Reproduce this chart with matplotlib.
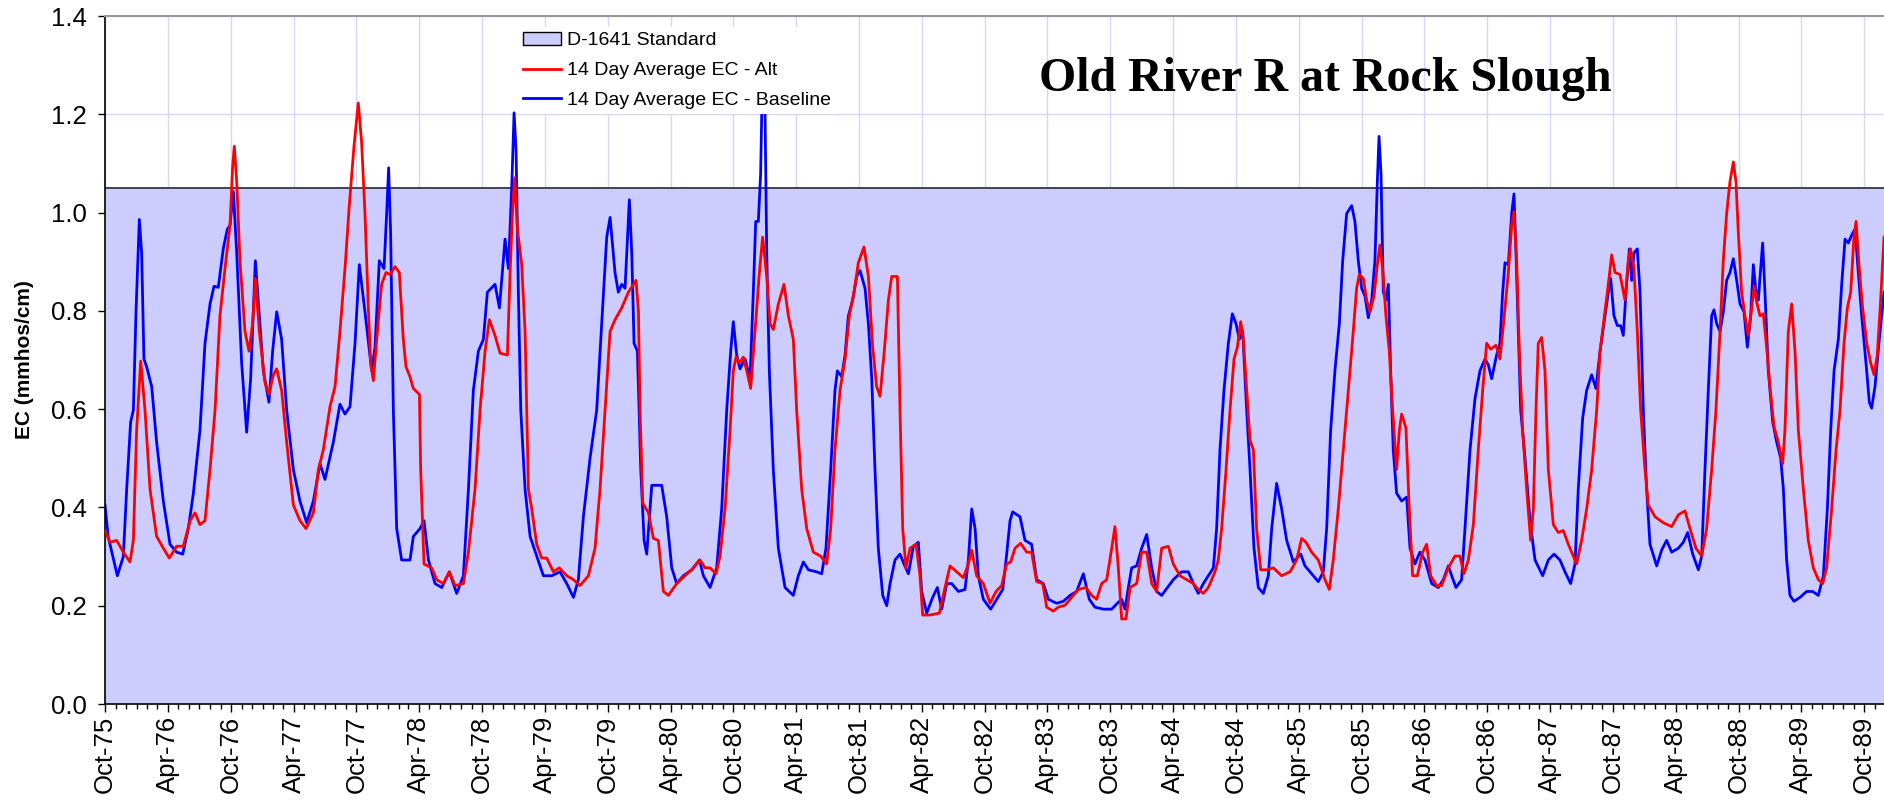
import numpy as np
import pandas as pd
import matplotlib
matplotlib.use('Agg')
import matplotlib.pyplot as plt
import matplotlib.dates as mdates
from matplotlib.patches import Patch
from matplotlib.lines import Line2D

# (months since 1 Oct 1975, EC in mmhos/cm)
baseline_pts = [
    (0.0, 0.405), (0.3, 0.341), (1.18, 0.261), (1.75, 0.30), (2.07, 0.437), (2.45, 0.574), (2.71, 0.598),
    (2.96, 0.797), (3.28, 0.986), (3.5, 0.918), (3.72, 0.702), (3.98, 0.686), (4.46, 0.646), (4.93, 0.533),
    (5.57, 0.413), (6.21, 0.325), (6.84, 0.309), (7.42, 0.305), (7.96, 0.357), (8.44, 0.429), (9.07, 0.557),
    (9.55, 0.734), (10.03, 0.814), (10.41, 0.85), (10.82, 0.848), (11.3, 0.927), (11.68, 0.966), (11.94, 0.974),
    (12.26, 1.043), (12.58, 0.918), (13.05, 0.694), (13.53, 0.553), (13.91, 0.662), (14.36, 0.902), (14.74, 0.79),
    (15.12, 0.678), (15.66, 0.614), (16.01, 0.718), (16.4, 0.798), (16.87, 0.742), (17.35, 0.598), (17.99, 0.477),
    (18.62, 0.413), (19.26, 0.369), (19.9, 0.413), (20.53, 0.489), (21.01, 0.457), (21.81, 0.533), (22.44, 0.61),
    (22.92, 0.59), (23.4, 0.605), (23.88, 0.734), (24.29, 0.894), (24.83, 0.798), (25.47, 0.678), (25.79, 0.726),
    (26.2, 0.902), (26.65, 0.886), (26.9, 0.998), (27.09, 1.091), (27.28, 0.958), (27.54, 0.598), (27.86, 0.357),
    (28.33, 0.293), (29.13, 0.293), (29.45, 0.341), (30.09, 0.357), (30.47, 0.373), (30.89, 0.293), (31.52, 0.245),
    (32.16, 0.237), (32.89, 0.269), (33.59, 0.225), (34.23, 0.261), (34.71, 0.437), (35.18, 0.638), (35.66, 0.718),
    (36.14, 0.742), (36.52, 0.838), (37.25, 0.854), (37.67, 0.806), (38.21, 0.946), (38.53, 0.886), (38.85, 1.054),
    (39.07, 1.203), (39.26, 1.127), (39.48, 0.838), (39.71, 0.598), (40.12, 0.437), (40.6, 0.341), (41.23, 0.301),
    (41.87, 0.261), (42.67, 0.261), (43.46, 0.269), (44.1, 0.245), (44.74, 0.217), (45.21, 0.253), (45.69, 0.381),
    (46.33, 0.501), (46.96, 0.598), (47.44, 0.774), (47.92, 0.95), (48.24, 0.99), (48.71, 0.878), (49.03, 0.838),
    (49.35, 0.854), (49.67, 0.846), (50.08, 1.026), (50.31, 0.918), (50.53, 0.734), (50.85, 0.718), (51.17, 0.477),
    (51.49, 0.333), (51.74, 0.305), (52.22, 0.445), (52.7, 0.445), (53.17, 0.445), (53.65, 0.381), (54.13, 0.277),
    (54.6, 0.245), (55.24, 0.261), (56.04, 0.273), (56.77, 0.293), (57.15, 0.261), (57.79, 0.237), (58.42, 0.277),
    (58.9, 0.397), (59.38, 0.598), (59.76, 0.718), (60.01, 0.778), (60.33, 0.71), (60.65, 0.682), (61.13, 0.702),
    (61.61, 0.662), (61.92, 0.838), (62.15, 0.982), (62.4, 0.982), (62.62, 1.079), (62.81, 1.3), (63.04, 1.2),
    (63.2, 0.918), (63.45, 0.678), (63.83, 0.477), (64.31, 0.317), (64.95, 0.237), (65.74, 0.221), (66.22, 0.261),
    (66.7, 0.289), (67.18, 0.273), (67.97, 0.269), (68.45, 0.265), (68.86, 0.317), (69.31, 0.477), (69.72, 0.638),
    (69.95, 0.678), (70.36, 0.666), (70.68, 0.71), (71.0, 0.79), (71.41, 0.822), (71.79, 0.87), (72.11, 0.882),
    (72.59, 0.846), (72.91, 0.774), (73.23, 0.662), (73.54, 0.477), (73.86, 0.317), (74.28, 0.221), (74.66, 0.2),
    (74.98, 0.245), (75.45, 0.293), (75.93, 0.305), (76.31, 0.285), (76.73, 0.265), (77.21, 0.321), (77.68, 0.329),
    (78.0, 0.229), (78.48, 0.185), (79.05, 0.217), (79.5, 0.237), (79.91, 0.193), (80.39, 0.245), (80.87, 0.245),
    (81.5, 0.229), (82.14, 0.233), (82.46, 0.293), (82.78, 0.397), (83.1, 0.357), (83.41, 0.261), (83.89, 0.213),
    (84.59, 0.193), (85.16, 0.213), (85.74, 0.233), (86.06, 0.293), (86.44, 0.373), (86.69, 0.391), (87.39, 0.381),
    (87.87, 0.333), (88.5, 0.325), (88.98, 0.253), (89.62, 0.245), (90.1, 0.213), (90.89, 0.205), (91.53, 0.209),
    (92.17, 0.221), (92.8, 0.229), (93.44, 0.265), (94.01, 0.213), (94.55, 0.197), (95.35, 0.193), (96.15, 0.193),
    (96.69, 0.205), (97.1, 0.213), (97.42, 0.193), (97.74, 0.237), (98.06, 0.277), (98.53, 0.281), (99.01, 0.317),
    (99.49, 0.345), (99.97, 0.277), (100.44, 0.229), (100.92, 0.221), (102.03, 0.253), (102.83, 0.269),
    (103.47, 0.269), (103.95, 0.245), (104.42, 0.225), (104.9, 0.245), (105.38, 0.261), (105.86, 0.277),
    (106.17, 0.357), (106.49, 0.517), (106.87, 0.638), (107.29, 0.734), (107.67, 0.794), (108.02, 0.774),
    (108.34, 0.742), (108.66, 0.758), (109.04, 0.598), (109.36, 0.477), (109.74, 0.317), (110.15, 0.237),
    (110.63, 0.225), (111.11, 0.261), (111.43, 0.357), (111.9, 0.449), (112.38, 0.397), (112.86, 0.333),
    (113.5, 0.289), (114.2, 0.305), (114.61, 0.281), (115.09, 0.269), (115.88, 0.249), (116.36, 0.269),
    (116.68, 0.357), (117.06, 0.557), (117.47, 0.678), (117.89, 0.774), (118.21, 0.902), (118.59, 0.998),
    (119.07, 1.014), (119.38, 0.982), (119.7, 0.902), (120.02, 0.846), (120.34, 0.83), (120.66, 0.786),
    (120.98, 0.822), (121.29, 0.902), (121.52, 1.063), (121.68, 1.155), (121.87, 1.079), (122.09, 0.838),
    (122.34, 0.822), (122.57, 0.854), (122.79, 0.678), (123.04, 0.517), (123.36, 0.429), (123.84, 0.413),
    (124.32, 0.421), (124.64, 0.317), (125.11, 0.285), (125.59, 0.309), (126.07, 0.293), (126.71, 0.245),
    (127.34, 0.237), (127.82, 0.253), (128.3, 0.281), (128.62, 0.261), (129.03, 0.237), (129.57, 0.253),
    (129.89, 0.357), (130.37, 0.517), (130.85, 0.622), (131.32, 0.678), (131.8, 0.702), (132.12, 0.69),
    (132.44, 0.662), (132.91, 0.71), (133.23, 0.734), (133.49, 0.838), (133.71, 0.898), (134.03, 0.894),
    (134.35, 0.998), (134.57, 1.038), (134.76, 0.918), (134.98, 0.758), (135.21, 0.598), (135.62, 0.501),
    (136.1, 0.373), (136.58, 0.293), (137.31, 0.261), (137.85, 0.293), (138.39, 0.305), (138.96, 0.293),
    (139.44, 0.269), (139.98, 0.245), (140.4, 0.285), (140.71, 0.437), (141.13, 0.582), (141.51, 0.638),
    (141.99, 0.67), (142.4, 0.642), (142.79, 0.718), (143.26, 0.79), (143.58, 0.838), (143.8, 0.866),
    (144.12, 0.79), (144.44, 0.77), (144.76, 0.77), (145.01, 0.75), (145.27, 0.838), (145.59, 0.926),
    (145.81, 0.862), (146.03, 0.918), (146.35, 0.926), (146.61, 0.838), (146.92, 0.598), (147.24, 0.437),
    (147.56, 0.325), (148.2, 0.281), (148.67, 0.313), (149.15, 0.333), (149.63, 0.309), (150.27, 0.317),
    (150.74, 0.329), (151.16, 0.349), (151.64, 0.305), (152.18, 0.273), (152.5, 0.301), (152.81, 0.477),
    (153.13, 0.638), (153.45, 0.79), (153.67, 0.802), (153.93, 0.774), (154.25, 0.758), (154.56, 0.798),
    (154.88, 0.862), (155.2, 0.878), (155.52, 0.906), (155.84, 0.862), (156.16, 0.814), (156.54, 0.798),
    (156.86, 0.726), (157.18, 0.79), (157.43, 0.894), (157.65, 0.846), (157.91, 0.822), (158.13, 0.886),
    (158.32, 0.938), (158.54, 0.838), (158.86, 0.678), (159.28, 0.574), (159.66, 0.533), (160.04, 0.501),
    (160.3, 0.437), (160.61, 0.293), (160.93, 0.221), (161.31, 0.209), (161.89, 0.217), (162.52, 0.229),
    (163.1, 0.229), (163.64, 0.221), (164.12, 0.261), (164.5, 0.397), (164.82, 0.557), (165.14, 0.678),
    (165.55, 0.742), (165.87, 0.854), (166.19, 0.946), (166.5, 0.938), (166.82, 0.954), (167.14, 0.966),
    (167.46, 0.878), (167.78, 0.79), (168.19, 0.694), (168.51, 0.614), (168.73, 0.602), (169.05, 0.646),
    (169.46, 0.742), (169.91, 0.838),
]

alt_pts = [
    (0.0, 0.353), (0.48, 0.329), (1.11, 0.333), (1.75, 0.309), (2.39, 0.289), (2.71, 0.333), (3.02, 0.557),
    (3.41, 0.698), (3.82, 0.598), (4.3, 0.437), (4.93, 0.341), (5.57, 0.317), (6.14, 0.297), (6.84, 0.321),
    (7.48, 0.321), (8.12, 0.373), (8.6, 0.389), (9.07, 0.365), (9.55, 0.373), (10.03, 0.477), (10.51, 0.598),
    (10.98, 0.79), (11.46, 0.886), (11.94, 0.974), (12.19, 1.094), (12.35, 1.135), (12.58, 1.063), (12.89, 0.902),
    (13.37, 0.758), (13.75, 0.718), (14.1, 0.774), (14.36, 0.866), (14.74, 0.758), (15.28, 0.654), (15.66, 0.63),
    (16.08, 0.67), (16.4, 0.682), (16.87, 0.638), (17.35, 0.533), (17.99, 0.405), (18.62, 0.373), (19.2, 0.357),
    (19.9, 0.389), (20.38, 0.477), (20.85, 0.517), (21.49, 0.605), (21.97, 0.646), (22.44, 0.758), (22.92, 0.886),
    (23.33, 1.014), (23.78, 1.135), (24.19, 1.223), (24.51, 1.143), (24.83, 0.998), (25.15, 0.806), (25.37, 0.694),
    (25.63, 0.658), (25.95, 0.742), (26.42, 0.854), (26.84, 0.878), (27.22, 0.874), (27.7, 0.89), (28.11, 0.878),
    (28.49, 0.742), (28.75, 0.686), (29.13, 0.666), (29.45, 0.642), (30.03, 0.63), (30.15, 0.477), (30.47, 0.285),
    (31.2, 0.277), (31.68, 0.253), (32.32, 0.245), (32.89, 0.269), (33.43, 0.241), (34.23, 0.245), (34.71, 0.309),
    (35.34, 0.437), (35.82, 0.598), (36.3, 0.718), (36.71, 0.782), (37.25, 0.75), (37.73, 0.714), (38.43, 0.71),
    (38.69, 0.878), (38.91, 0.998), (39.13, 1.071), (39.39, 0.966), (39.8, 0.894), (40.12, 0.758), (40.44, 0.437),
    (40.76, 0.397), (41.23, 0.325), (41.71, 0.297), (42.19, 0.297), (42.82, 0.269), (43.4, 0.277), (44.1, 0.261),
    (44.74, 0.253), (45.37, 0.241), (46.17, 0.261), (46.8, 0.317), (47.28, 0.437), (47.76, 0.598), (48.24, 0.758),
    (48.71, 0.782), (49.35, 0.806), (49.99, 0.838), (50.72, 0.862), (50.95, 0.798), (51.1, 0.598), (51.36, 0.409),
    (51.9, 0.389), (52.38, 0.337), (52.85, 0.333), (53.33, 0.229), (53.81, 0.221), (54.6, 0.245), (55.4, 0.261),
    (56.2, 0.277), (56.83, 0.293), (57.31, 0.277), (57.79, 0.277), (58.36, 0.265), (58.74, 0.301), (59.22, 0.397),
    (59.7, 0.557), (60.01, 0.678), (60.27, 0.706), (60.59, 0.694), (60.97, 0.706), (61.29, 0.678), (61.67, 0.642),
    (62.08, 0.758), (62.5, 0.878), (62.81, 0.95), (63.2, 0.87), (63.52, 0.774), (63.83, 0.762), (64.31, 0.814),
    (64.85, 0.854), (65.27, 0.79), (65.74, 0.742), (66.06, 0.598), (66.54, 0.437), (67.02, 0.357), (67.65, 0.309),
    (68.35, 0.301), (68.93, 0.285), (69.31, 0.357), (69.72, 0.517), (70.2, 0.638), (70.68, 0.702), (71.09, 0.79),
    (71.54, 0.838), (71.95, 0.898), (72.49, 0.93), (72.91, 0.87), (73.32, 0.726), (73.7, 0.646), (74.02, 0.626),
    (74.43, 0.718), (74.82, 0.822), (75.14, 0.87), (75.68, 0.87), (75.93, 0.598), (76.19, 0.357), (76.5, 0.277),
    (76.89, 0.317), (77.46, 0.325), (77.84, 0.261), (78.1, 0.181), (78.8, 0.181), (79.69, 0.185), (80.23, 0.237),
    (80.71, 0.281), (81.34, 0.269), (81.98, 0.257), (82.46, 0.285), (82.78, 0.313), (83.25, 0.261), (83.89, 0.245),
    (84.53, 0.205), (85.1, 0.229), (85.64, 0.241), (86.12, 0.285), (86.5, 0.289), (86.91, 0.317), (87.45, 0.327),
    (88.03, 0.309), (88.5, 0.309), (88.98, 0.249), (89.56, 0.245), (89.94, 0.197), (90.57, 0.189), (91.05, 0.197),
    (91.69, 0.201), (92.17, 0.213), (92.96, 0.233), (93.69, 0.237), (94.24, 0.221), (94.71, 0.213), (95.19, 0.245),
    (95.67, 0.253), (96.15, 0.317), (96.46, 0.361), (96.78, 0.277), (97.1, 0.173), (97.51, 0.173), (97.9, 0.237),
    (98.53, 0.245), (99.01, 0.309), (99.49, 0.309), (99.97, 0.245), (100.44, 0.229), (100.92, 0.317),
    (101.56, 0.321), (102.03, 0.285), (102.67, 0.261), (103.31, 0.253), (103.95, 0.245), (104.42, 0.233),
    (104.9, 0.225), (105.38, 0.237), (106.01, 0.269), (106.33, 0.293), (106.65, 0.357), (107.07, 0.477),
    (107.45, 0.598), (107.83, 0.702), (108.15, 0.726), (108.47, 0.778), (108.72, 0.742), (109.04, 0.638),
    (109.36, 0.537), (109.68, 0.517), (109.99, 0.357), (110.38, 0.273), (110.95, 0.273), (111.59, 0.277),
    (112.38, 0.261), (113.18, 0.269), (113.81, 0.293), (114.29, 0.337), (114.71, 0.329), (115.24, 0.309),
    (115.88, 0.293), (116.52, 0.253), (116.93, 0.233), (117.31, 0.293), (117.79, 0.397), (118.27, 0.517),
    (118.75, 0.638), (119.22, 0.758), (119.54, 0.846), (119.8, 0.874), (120.18, 0.866), (120.5, 0.822),
    (120.82, 0.798), (121.2, 0.83), (121.52, 0.894), (121.77, 0.934), (122.03, 0.886), (122.34, 0.79),
    (122.66, 0.718), (122.98, 0.598), (123.36, 0.477), (123.62, 0.557), (123.84, 0.59), (124.25, 0.562),
    (124.57, 0.397), (124.89, 0.261), (125.34, 0.261), (125.85, 0.309), (126.23, 0.325), (126.61, 0.261),
    (127.18, 0.241), (127.66, 0.241), (128.3, 0.277), (128.93, 0.301), (129.41, 0.301), (129.79, 0.265),
    (130.21, 0.293), (130.69, 0.365), (131.16, 0.517), (131.58, 0.638), (131.96, 0.734), (132.34, 0.722),
    (132.85, 0.73), (133.23, 0.702), (133.61, 0.782), (134.03, 0.878), (134.35, 0.974), (134.57, 1.002),
    (134.83, 0.902), (135.08, 0.718), (135.4, 0.557), (135.78, 0.437), (136.16, 0.333), (136.42, 0.397),
    (136.67, 0.598), (136.89, 0.734), (137.21, 0.746), (137.53, 0.678), (137.85, 0.477), (138.33, 0.365),
    (138.8, 0.349), (139.28, 0.353), (139.76, 0.325), (140.24, 0.301), (140.55, 0.285), (141.03, 0.333),
    (141.51, 0.397), (141.99, 0.477), (142.47, 0.598), (142.79, 0.718), (143.26, 0.798), (143.58, 0.854),
    (143.9, 0.914), (144.22, 0.878), (144.7, 0.874), (145.17, 0.822), (145.49, 0.902), (145.71, 0.926),
    (146.03, 0.886), (146.35, 0.758), (146.67, 0.598), (147.08, 0.477), (147.4, 0.405), (148.04, 0.381),
    (148.83, 0.369), (149.63, 0.361), (150.27, 0.385), (150.9, 0.393), (151.38, 0.357), (151.95, 0.317),
    (152.5, 0.301), (152.97, 0.357), (153.45, 0.477), (153.86, 0.598), (154.25, 0.758), (154.56, 0.902),
    (154.88, 0.998), (155.2, 1.063), (155.52, 1.103), (155.77, 1.063), (156.0, 0.958), (156.31, 0.838),
    (156.63, 0.79), (156.95, 0.75), (157.27, 0.806), (157.52, 0.85), (157.75, 0.818), (158.07, 0.79),
    (158.38, 0.794), (158.7, 0.726), (159.02, 0.646), (159.4, 0.565), (159.82, 0.533), (160.23, 0.489),
    (160.45, 0.557), (160.77, 0.758), (161.09, 0.814), (161.41, 0.718), (161.73, 0.557), (162.21, 0.437),
    (162.68, 0.333), (163.16, 0.277), (163.64, 0.253), (164.05, 0.245), (164.43, 0.277), (164.91, 0.397),
    (165.33, 0.517), (165.71, 0.598), (166.09, 0.734), (166.41, 0.806), (166.73, 0.838), (167.04, 0.95),
    (167.24, 0.982), (167.55, 0.886), (167.87, 0.806), (168.26, 0.734), (168.64, 0.694), (168.96, 0.67),
    (169.27, 0.71), (169.59, 0.822), (169.91, 0.95),
]

std_months = [0.0, 169.91]
std_ec = [1.05, 1.05]

start = pd.Timestamp('1975-10-01')


def to_dates(months):
    return start + pd.to_timedelta(np.asarray(months) * 30.4375, unit='D')


base_months, base_ec = np.array(baseline_pts).T
alt_months, alt_ec = np.array(alt_pts).T

plt.rcParams['font.family'] = ['Liberation Sans', 'DejaVu Sans']

fig = plt.figure(figsize=(18.84, 8.08), dpi=100)
ax = fig.add_axes([105 / 1884, 104 / 808, 1779 / 1884, 688 / 808])

std_x = to_dates(std_months)
ax.fill_between(std_x, 0, std_ec, facecolor='#ccccff', edgecolor='none', zorder=1)
ax.plot(std_x, std_ec, color='#444444', lw=1.4, zorder=1.5)
ax.plot(to_dates(base_months), base_ec, color='#0000ff', lw=2.0, zorder=2)
ax.plot(to_dates(alt_months), alt_ec, color='#ff0000', lw=2.0, zorder=3)

ax.set_xlim(std_x[0], std_x[-1])
ax.set_ylim(0, 1.4)
ax.set_yticks(np.arange(0, 1.41, 0.2))
ax.yaxis.set_major_formatter(plt.FormatStrFormatter('%.1f'))

ax.xaxis.set_major_locator(mdates.MonthLocator(bymonth=[4, 10]))
ax.xaxis.set_minor_locator(mdates.MonthLocator())
ax.xaxis.set_major_formatter(mdates.DateFormatter('%b-%y'))
plt.setp(ax.get_xticklabels(), rotation=90, ha='center')

ax.set_axisbelow(True)
ax.grid(True, which='major', color='#d6d6fc', lw=1.0)

ax.tick_params(axis='y', labelsize=18.5, length=5, width=1, pad=8)
ax.tick_params(axis='x', which='major', labelsize=18.5, length=5.5, width=1, pad=3)
ax.tick_params(axis='x', which='minor', length=3.5, width=1)

ax.spines['right'].set_visible(False)
ax.spines['top'].set_color('#999999')
ax.spines['top'].set_linewidth(1.5)
for s in ['left', 'bottom']:
    ax.spines[s].set_color('black')
    ax.spines[s].set_linewidth(1.2)

ax.set_ylabel('EC (mmhos/cm)', fontsize=15, fontweight='bold')
ax.yaxis.set_label_coords(-0.040, 0.5)

handles = [
    Patch(facecolor='#ccccff', edgecolor='black', label='D-1641 Standard'),
    Line2D([], [], color='#ff0000', lw=2.0, label='14 Day Average EC - Alt'),
    Line2D([], [], color='#0000ff', lw=2.0, label='14 Day Average EC - Baseline'),
]
leg = ax.legend(handles=handles, loc='upper left', bbox_to_anchor=(518 / 1884, 1 - 27 / 808),
                bbox_transform=fig.transFigure, fontsize=14, frameon=True, fancybox=False,
                framealpha=1, borderpad=0.25, handlelength=1.95, handletextpad=0.3, labelspacing=0.63,
                borderaxespad=0)
leg.get_frame().set_facecolor('white')
leg.get_frame().set_edgecolor('none')
leg.set_zorder(5)

fig.text(1325 / 1884, 1 - 79 / 808, 'Old River R at Rock Slough', family=['Liberation Serif', 'DejaVu Serif'],
         weight='bold', size=34.5, ha='center', va='center')

fig.savefig('out.png', dpi=100)
